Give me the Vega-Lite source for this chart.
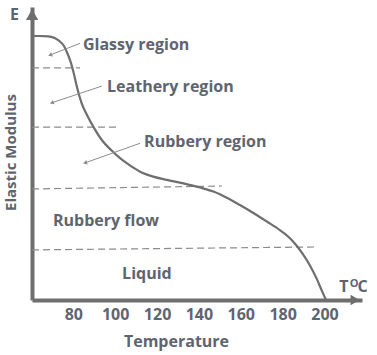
{
  "$schema": "https://vega.github.io/schema/vega-lite/v6.json",
  "width": 330,
  "height": 293,
  "autosize": "none",
  "padding": {"left": 32, "top": 7, "right": 15, "bottom": 55},
  "background": "white",
  "config": {
    "view": {"stroke": null},
    "font": "Open Sans",
    "axis": {"grid": false}
  },
  "datasets": {
    "curve": [
      {"T": 60.3, "E": 90.1},
      {"T": 64.0, "E": 90.1},
      {"T": 67.9, "E": 90.0},
      {"T": 71.1, "E": 89.4},
      {"T": 73.5, "E": 88.3},
      {"T": 75.6, "E": 86.6},
      {"T": 77.1, "E": 84.3},
      {"T": 78.6, "E": 81.5},
      {"T": 80.0, "E": 78.0},
      {"T": 81.8, "E": 72.5},
      {"T": 84.0, "E": 67.1},
      {"T": 86.4, "E": 63.3},
      {"T": 89.6, "E": 59.1},
      {"T": 93.6, "E": 54.6},
      {"T": 98.3, "E": 51.0},
      {"T": 102.3, "E": 48.4},
      {"T": 105.5, "E": 46.7},
      {"T": 111.9, "E": 43.8},
      {"T": 118.2, "E": 42.1},
      {"T": 124.6, "E": 41.0},
      {"T": 132.6, "E": 39.8},
      {"T": 140.5, "E": 38.4},
      {"T": 146.9, "E": 37.0},
      {"T": 153.3, "E": 34.9},
      {"T": 159.6, "E": 32.4},
      {"T": 166.0, "E": 29.7},
      {"T": 172.4, "E": 26.8},
      {"T": 178.8, "E": 23.8},
      {"T": 183.5, "E": 21.1},
      {"T": 186.7, "E": 18.5},
      {"T": 189.9, "E": 15.4},
      {"T": 193.1, "E": 11.7},
      {"T": 196.3, "E": 7.2},
      {"T": 198.7, "E": 3.2},
      {"T": 200.7, "E": 0}
    ],
    "dashes": [
      {"T1": 60.3, "T2": 83.2, "E1": 79.2, "E2": 79.2},
      {"T1": 60.3, "T2": 100.4, "E1": 59.0, "E2": 59.0},
      {"T1": 60.3, "T2": 151.0, "E1": 37.9, "E2": 38.9},
      {"T1": 60.3, "T2": 196.4, "E1": 17.1, "E2": 18.1}
    ],
    "arrows": [
      {"T1": 83.2, "E1": 87.6, "T2": 68.9, "E2": 83.6, "ang": 339},
      {"T1": 93.6, "E1": 73.0, "T2": 69.7, "E2": 67.3, "ang": 341},
      {"T1": 111.9, "E1": 53.5, "T2": 85.6, "E2": 46.8, "ang": 342}
    ],
    "labels": [
      {"T": 84.6, "E": 87.0, "label": "Glassy region"},
      {"T": 96.1, "E": 72.7, "label": "Leathery region"},
      {"T": 113.8, "E": 53.9, "label": "Rubbery region"},
      {"T": 70.3, "E": 27.0, "label": "Rubbery flow"},
      {"T": 103.3, "E": 8.9, "label": "Liquid"},
      {"T": 49.8, "E": 97.3, "label": "E"},
      {"T": 207.0, "E": 4.3, "label": "T"},
      {"T": 215.8, "E": 4.3, "label": "C"}
    ],
    "sup": [
      {"T": 212.0, "E": 5.6, "label": "O"}
    ],
    "headsUp": [{"T": 60.3, "E": 97.4}],
    "headsRight": [{"T": 214.6, "E": 0}]
  },
  "layer": [
    {
      "data": {"name": "dashes"},
      "mark": {"type": "rule", "color": "#8a8a8a", "strokeWidth": 1.2, "strokeDash": [7, 4]},
      "encoding": {
        "x": {"field": "T1", "type": "quantitative",
          "scale": {"domain": [60.26, 217.9], "nice": false, "zero": false},
          "axis": {
            "values": [80, 100, 120, 140, 160, 180, 200],
            "domainColor": "#6e6e6e", "domainWidth": 4,
            "ticks": false,
            "labelFont": "Open Sans", "labelFontSize": 16, "labelFontWeight": "bold",
            "labelColor": "#5e6570", "labelPadding": 6,
            "title": "Temperature", "titleFont": "Open Sans", "titleFontSize": 16,
            "titleFontWeight": "bold", "titleColor": "#5e6570",
            "titleX": 144, "titleY": 41, "titleBaseline": "middle", "titleAlign": "center"
          }},
        "x2": {"field": "T2"},
        "y": {"field": "E1", "type": "quantitative",
          "scale": {"domain": [0, 100], "nice": false, "zero": true},
          "axis": {
            "labels": false, "ticks": false,
            "domainColor": "#6e6e6e", "domainWidth": 4,
            "title": "Elastic Modulus", "titleFont": "Open Sans", "titleFontSize": 15,
            "titleFontWeight": "bold", "titleColor": "#5e6570",
            "titleAngle": -90, "titleX": -22, "titleY": 145,
            "titleBaseline": "middle", "titleAlign": "center"
          }},
        "y2": {"field": "E2"}
      }
    },
    {
      "data": {"name": "curve"},
      "mark": {"type": "line", "color": "#6e6e6e", "strokeWidth": 2.2, "interpolate": "monotone"},
      "encoding": {
        "x": {"field": "T", "type": "quantitative"},
        "y": {"field": "E", "type": "quantitative"}
      }
    },
    {
      "data": {"name": "arrows"},
      "mark": {"type": "rule", "color": "#8c8c8c", "strokeWidth": 1},
      "encoding": {
        "x": {"field": "T1", "type": "quantitative"},
        "x2": {"field": "T2"},
        "y": {"field": "E1", "type": "quantitative"},
        "y2": {"field": "E2"}
      }
    },
    {
      "data": {"name": "arrows"},
      "mark": {"type": "point", "shape": "triangle-left", "filled": true, "color": "#8c8c8c", "size": 22, "opacity": 1},
      "encoding": {
        "x": {"field": "T2", "type": "quantitative"},
        "y": {"field": "E2", "type": "quantitative"},
        "angle": {"field": "ang", "type": "quantitative", "scale": null}
      }
    },
    {
      "data": {"name": "headsUp"},
      "mark": {"type": "point", "shape": "triangle-up", "filled": true, "color": "#6e6e6e", "size": 150, "opacity": 1},
      "encoding": {
        "x": {"field": "T", "type": "quantitative"},
        "y": {"field": "E", "type": "quantitative"}
      }
    },
    {
      "data": {"name": "headsRight"},
      "mark": {"type": "point", "shape": "triangle-right", "filled": true, "color": "#6e6e6e", "size": 110, "opacity": 1},
      "encoding": {
        "x": {"field": "T", "type": "quantitative"},
        "y": {"field": "E", "type": "quantitative"}
      }
    },
    {
      "data": {"name": "labels"},
      "mark": {"type": "text", "align": "left", "baseline": "middle", "font": "Open Sans", "fontSize": 16, "fontWeight": "bold", "color": "#5e6570"},
      "encoding": {
        "x": {"field": "T", "type": "quantitative"},
        "y": {"field": "E", "type": "quantitative"},
        "text": {"field": "label"}
      }
    },
    {
      "data": {"name": "sup"},
      "mark": {"type": "text", "align": "left", "baseline": "middle", "font": "Open Sans", "fontSize": 11, "fontWeight": "bold", "color": "#5e6570"},
      "encoding": {
        "x": {"field": "T", "type": "quantitative"},
        "y": {"field": "E", "type": "quantitative"},
        "text": {"field": "label"}
      }
    }
  ]
}
